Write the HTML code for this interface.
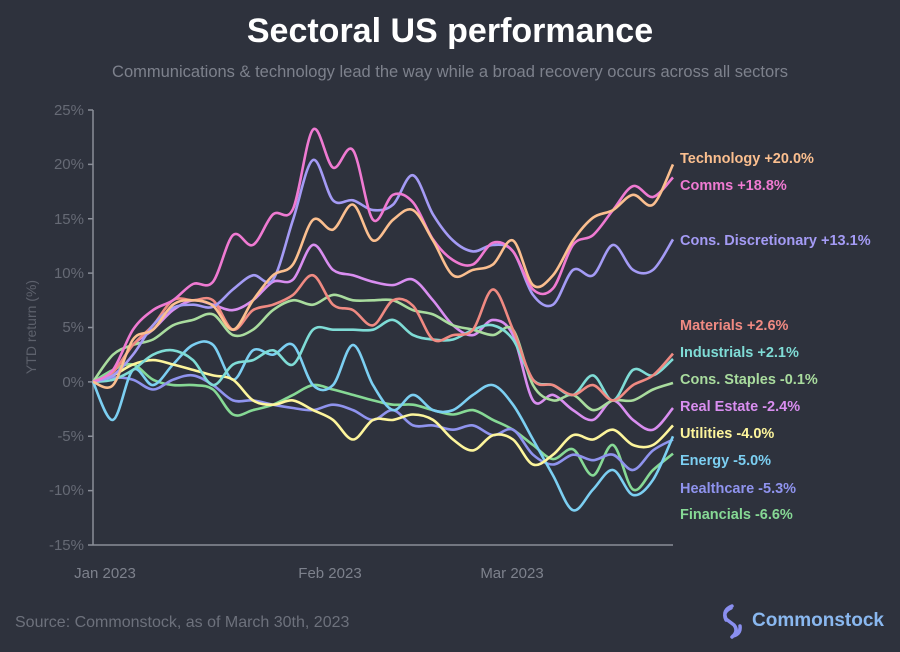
<!DOCTYPE html>
<html><head><meta charset="utf-8"><style>
html,body{margin:0;padding:0;background:#2e323d;}
body{width:900px;height:647px;overflow:hidden;font-family:"Liberation Sans",sans-serif;}
</style></head><body>
<svg id="chart" width="900" height="647" viewBox="0 0 900 647" xmlns="http://www.w3.org/2000/svg">
<rect width="900" height="647" fill="#2e323d"/>
<text x="450" y="42" text-anchor="middle" fill="#ffffff" font-size="34" font-weight="bold">Sectoral US performance</text>
<text x="450" y="77" text-anchor="middle" fill="#7d818c" font-size="16.5">Communications &amp; technology lead the way while a broad recovery occurs across all sectors</text>
<text transform="translate(36,327) rotate(-90)" text-anchor="middle" fill="#5d616c" font-size="14">YTD return (%)</text>
<g id="axes"></g>
<g fill="#666a75" font-size="15" text-anchor="end">
<text x="84" y="115">25%</text><text x="84" y="169">20%</text><text x="84" y="224">15%</text><text x="84" y="278">10%</text><text x="84" y="332">5%</text><text x="84" y="387">0%</text><text x="84" y="441">-5%</text><text x="84" y="495">-10%</text><text x="84" y="550">-15%</text>
</g>
<g fill="#7d818c" font-size="15" text-anchor="middle">
<text x="105" y="578">Jan 2023</text><text x="330" y="578">Feb 2023</text><text x="512" y="578">Mar 2023</text>
</g>
<g id="series"></g>
<g font-size="14.5" font-weight="bold">
<text x="680" y="163" fill="#fbbf8f">Technology +20.0%</text>
<text x="680" y="190" fill="#ef7ad2">Comms +18.8%</text>
<text x="680" y="245" fill="#a49bf5">Cons. Discretionary +13.1%</text>
<text x="680" y="330" fill="#f08a82">Materials +2.6%</text>
<text x="680" y="357" fill="#7fdcd6">Industrials +2.1%</text>
<text x="680" y="384" fill="#a9dc9e">Cons. Staples -0.1%</text>
<text x="680" y="411" fill="#d98ef0">Real Estate -2.4%</text>
<text x="680" y="438" fill="#fdf59c">Utilities -4.0%</text>
<text x="680" y="465" fill="#7ccff2">Energy -5.0%</text>
<text x="680" y="493" fill="#8f93ee">Healthcare -5.3%</text>
<text x="680" y="519" fill="#86d995">Financials -6.6%</text>
</g>
<text x="15" y="627" fill="#6d717c" font-size="16">Source: Commonstock, as of March 30th, 2023</text>
<g>
<path d="M732 606 q-10 4 -6 13 l8 6 q5 6 -2 12 M733 636 q8 -2 7 -10 M726 620 q-4 -8 5 -12" fill="none" stroke="#8a8ff0" stroke-width="3.5" stroke-linecap="round"/>
<text x="752" y="626" fill="#8ab8f0" font-size="19" font-weight="bold">Commonstock</text>
</g>
</svg>
<script>
const yTicks=[25,20,15,10,5,0,-5,-10,-15];
const names=["Technology","Comms","Cons. Discretionary","Materials","Industrials","Cons. Staples","Real Estate","Utilities","Energy","Healthcare","Financials"];
const colors=["#fbbf8f","#ef7ad2","#a49bf5","#f08a82","#7fdcd6","#a9dc9e","#d98ef0","#fdf59c","#7ccff2","#8f93ee","#86d995"];
const tech=[0,-0.3,3.9,4.8,7.1,7.5,7,4.8,7.5,9.8,10.8,14.9,14,16.3,13,14.9,15.8,13,9.8,10.3,10.8,13,8.9,9.8,13,15.1,15.8,17.2,16.3,20];
const comms=[0,1.1,4.8,6.6,7.5,9,9.2,13.5,12.6,15.4,15.9,23.2,19.7,21.3,14.9,17.2,16.5,13.1,11.2,10.8,12.8,12,8.5,8.6,12.6,13.5,15.8,18,17,18.8];
const disc=[0,0.6,2.5,5.2,6.8,7.1,6.9,8.5,9.8,9.4,14.9,20.4,16.7,16.7,15.8,16.3,19,15.4,13,12,12.6,12,8,7.1,10.3,9.8,12.6,10.3,10.3,13.1];
const materials=[0,0.9,3.4,5.2,7.5,7.5,7.5,4.8,6.6,7.1,8,9.8,7.1,6.6,5.2,7.5,7,3.9,4.3,4.8,8.5,4.8,0.2,-0.3,-1.2,-0.3,-1.7,-0.3,0.6,2.6];
const industrials=[0,0.2,1.1,2.5,2.9,2,-0.3,1.6,2,2.9,1.6,4.8,4.8,4.8,4.8,5.7,4.3,3.9,3.9,4.8,5.2,3.9,0.2,-0.3,-1.2,0.6,-1.7,1.1,0.6,2.1];
const staples=[0,2.5,3.4,3.9,5.2,5.7,6.2,4.3,4.8,6.6,7.5,7.1,8,7.5,7.5,7.5,6.6,6.2,5.2,4.8,4.3,4.8,-0.3,-1.7,-1.2,-2.6,-1.7,-1.7,-0.7,-0.1];
const realEstate=[0,0.9,3.4,4.8,6.6,7.5,7.1,6.6,7.5,9.2,9.4,12.6,10.3,9.8,9.2,8.9,9.4,7.5,5.2,4.3,5.7,4.3,-1.7,-1.2,-2.6,-3.5,-1.7,-3.5,-4.4,-2.4];
const utilities=[0,0.6,1.6,2,1.6,1.1,0.6,0.2,-1.7,-2.1,-1.7,-2.6,-3.5,-5.3,-3.5,-3.5,-3,-3.5,-5.3,-6.3,-4.9,-5.3,-7.6,-6.7,-4.9,-5.3,-4.4,-5.8,-5.8,-4];
const energy=[0,-3.5,1.1,-0.3,1.6,3.4,3.4,0.2,2.9,2.5,3.4,-0.3,-0.3,3.4,-0.3,-2.6,-1.2,-2.6,-2.6,-1.2,-0.3,-2.1,-5.3,-8.6,-11.8,-9.9,-8.1,-10.4,-9,-5];
const healthcare=[0,0.4,0.2,-0.7,0.2,0.6,-0.3,-1.7,-1.7,-2.1,-2.4,-2.6,-2.1,-2.6,-3.5,-2.6,-4,-4,-4.4,-4,-4.9,-4.4,-6.7,-7.6,-6.7,-7.2,-6.7,-8.1,-6.3,-5.3];
const financials=[0,1.1,1.6,0.2,-0.3,-0.3,-0.7,-3,-2.6,-2.1,-1.2,-0.3,-0.7,-1.2,-1.7,-2.1,-2.1,-2.6,-3,-2.6,-3.5,-4.4,-5.8,-7.1,-6.2,-8.6,-5.8,-9.9,-8.1,-6.6];
const allSeries=[tech,comms,disc,materials,industrials,staples,realEstate,utilities,energy,healthcare,financials];

const X0=93,X1=673,Y0=545,Y1=110,N=30;
function xScale(i){return X0+(X1-X0)*i/(N-1);}
function yScale(v){return Y0-(v+15)*(Y0-Y1)/40;}
const NS="http://www.w3.org/2000/svg";
function mk(tag,attrs,parent){const e=document.createElementNS(NS,tag);for(const k in attrs)e.setAttribute(k,attrs[k]);parent.appendChild(e);return e;}
const axes=document.getElementById('axes');
const yl=mk('line',{x1:X0,y1:Y1,x2:X0,y2:Y0,stroke:'#8a8e98','stroke-width':1.5},axes);


const xl=mk('line',{x1:X0,y1:Y0,x2:X1,y2:Y0,stroke:'#8a8e98','stroke-width':1.5},axes);


yTicks.forEach(t=>{
  const y=yScale(t);
  const tk=mk('line',{x1:X0-5,y1:y,x2:X0,y2:y,stroke:'#8a8e98','stroke-width':1.5},axes);
  
  
});
function smoothPath(pts){
  let d='M'+pts[0][0]+','+pts[0][1];
  for(let i=0;i<pts.length-1;i++){
    const p0=pts[i-1]||pts[i],p1=pts[i],p2=pts[i+1],p3=pts[i+2]||p2;
    const c1=[p1[0]+(p2[0]-p0[0])/6,p1[1]+(p2[1]-p0[1])/6];
    const c2=[p2[0]-(p3[0]-p1[0])/6,p2[1]-(p3[1]-p1[1])/6];
    d+=' C'+c1.join(',')+' '+c2.join(',')+' '+p2.join(',');
  }
  return d;
}
const sg=document.getElementById('series');
for(let s=allSeries.length-1;s>=0;s--){
  const pts=allSeries[s].map((v,i)=>[Number(xScale(i).toFixed(1)),Number(yScale(v).toFixed(1))]);
  const p=mk('path',{d:smoothPath(pts),fill:'none',stroke:colors[s],'stroke-width':2.6,'stroke-linejoin':'round'},sg);
  
  
}
</script>
</body></html>
